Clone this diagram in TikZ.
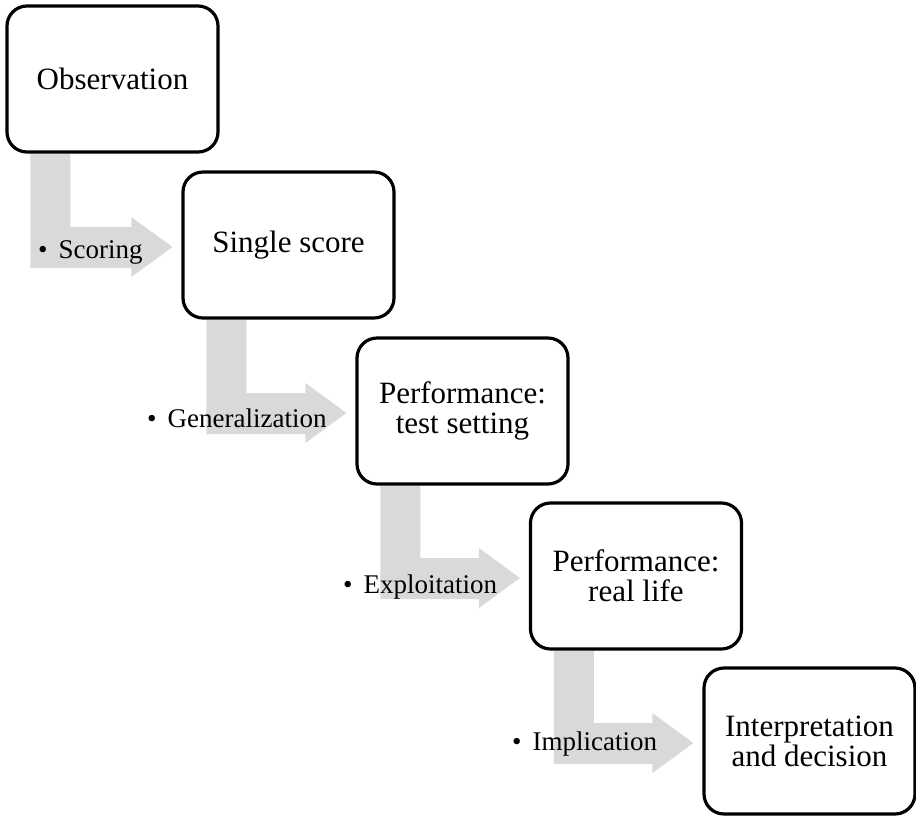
\documentclass[tikz,border=0pt]{standalone}
\usepackage{fontspec}
\setmainfont{Liberation Serif}
\usetikzlibrary{calc,backgrounds}
\definecolor{arrowgray}{RGB}{217,217,217}
\tikzset{
  stepbox/.style={draw=black, line width=3.2pt, rounded corners=20pt, fill=white,
    minimum width=211pt, minimum height=146pt, align=center, inner sep=0pt,
    font=\fontsize{31}{30}\selectfont},
  steplabel/.style={anchor=base west, inner sep=0pt, font=\fontsize{27}{30}\selectfont},
  bentarrow/.style={fill=arrowgray, draw=none}
}
\newcommand{\mybentarrow}[2]{%
  \path[bentarrow] ($(#1.south west)+(25,0)$) -- ($(#1.south west)+(65,0)$)
    -- ($(#1.south west |- #2.west)+(65,-18)$) -- ($(#2.west)+(-50,-18)$)
    -- ($(#2.west)+(-50,-28)$) -- ($(#2.west)+(-9,2)$)
    -- ($(#2.west)+(-50,32)$) -- ($(#2.west)+(-50,23)$)
    -- ($(#1.south west |- #2.west)+(25,23)$) -- cycle;}
\begin{document}
\begin{tikzpicture}[x=1pt,y=-1pt]
\useasboundingbox (0,0) rectangle (916,815);
\node[stepbox] (b1) at (112.5,79) {Observation};
\node[stepbox] (b2) at (288.5,245) {Single score};
\node[stepbox] (b3) at (462.5,411) {Performance:\\test setting};
\node[stepbox] (b4) at (636,576) {Performance:\\real life};
\node[stepbox] (b5) at (809.5,741) {Interpretation\\and decision};
\begin{scope}[on background layer]
\mybentarrow{b1}{b2}
\mybentarrow{b2}{b3}
\mybentarrow{b3}{b4}
\mybentarrow{b4}{b5}
\end{scope}
\node[steplabel] (l1) at (38,258) {•\hspace{11pt}Scoring};
\node[steplabel] (l2) at (147,427) {•\hspace{11pt}Generalization};
\node[steplabel] (l3) at (343,593) {•\hspace{11pt}Exploitation};
\node[steplabel] (l4) at (512,750) {•\hspace{11pt}Implication};
\end{tikzpicture}
\end{document}
